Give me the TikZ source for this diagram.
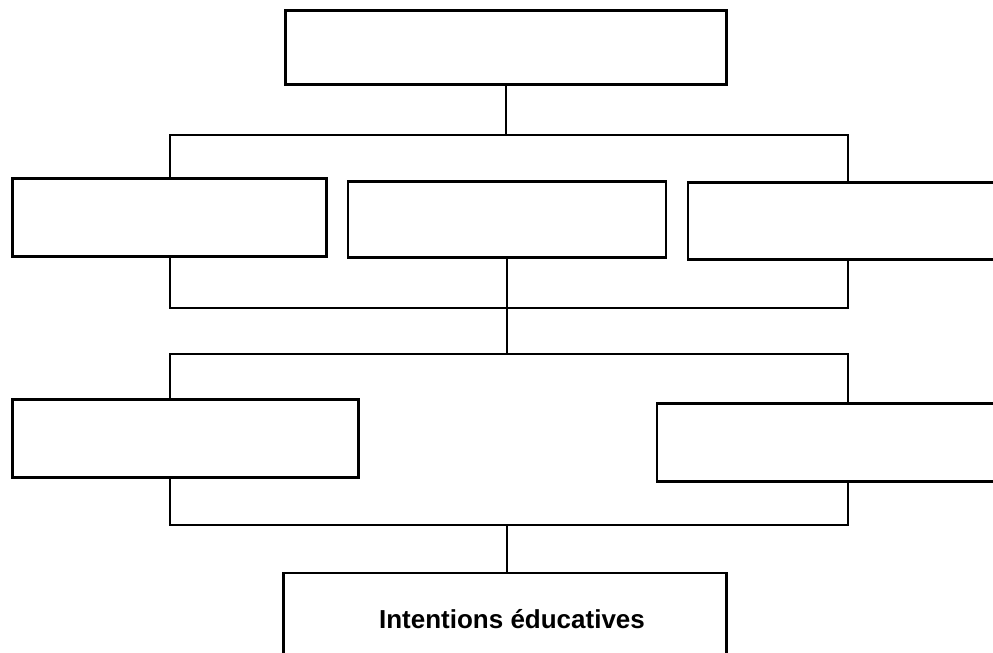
\documentclass[tikz,border=0pt]{standalone}
\usepackage{fontspec}
\setmainfont{Liberation Sans}
\begin{document}
\begin{tikzpicture}[x=1pt,y=1pt,
  box/.style={draw=black,line width=2.6pt,fill=none,rectangle,inner sep=0pt},
  conn/.style={draw=black,line width=1.3pt},
  lbl/.style={font=\fontsize{26}{31}\selectfont\bfseries}]
\useasboundingbox (0,0) rectangle (993,-653);
\clip (0,0) rectangle (993,-653);
\fill[white] (0,0) rectangle (993,-653);
% boxes
\node[box,minimum width=441pt,minimum height=74pt] (top) at (506,-47.5) {};
\node[box,minimum width=314pt,minimum height=78pt] (b1) at (169.5,-217.5) {};
\node[box,minimum width=318pt,minimum height=76pt] (b2) at (507,-219.5) {};
\node[box,minimum width=322pt,minimum height=77pt] (b3) at (849,-221) {};
\node[box,minimum width=346pt,minimum height=78pt] (c1) at (185.5,-438.5) {};
\node[box,minimum width=353pt,minimum height=78pt] (c2) at (833.5,-442.5) {};
\node[box,minimum width=443pt,minimum height=92pt,lbl,text depth=0pt] (bot) at (505,-619) {\hspace*{14pt}Intentions éducatives};
% junction coordinates
\coordinate (j1l) at (170,-135);
\coordinate (j1r) at (848,-135);
\coordinate (j2l) at (170,-308);
\coordinate (j2r) at (848,-308);
\coordinate (j3l) at (170,-354);
\coordinate (j3r) at (848,-354);
\coordinate (j4l) at (170,-525);
\coordinate (j4r) at (848,-525);
\coordinate (j4m) at (507,-525);
% connectors
\draw[conn] (top.south) -- (top.south |- j1l);
\draw[conn] (b1.north -| j1l) |- (j1r) -- (b3.north -| j1r);
\draw[conn] (b1.south -| j2l) |- (j2r) -- (b3.south -| j2r);
\draw[conn] (b2.south) -- (b2.south |- j3l);
\draw[conn] (c1.north -| j3l) |- (j3r) -- (c2.north -| j3r);
\draw[conn] (c1.south -| j4l) |- (j4r) -- (c2.south -| j4r);
\draw[conn] (j4m) -- (bot.north -| j4m);
\end{tikzpicture}
\end{document}
